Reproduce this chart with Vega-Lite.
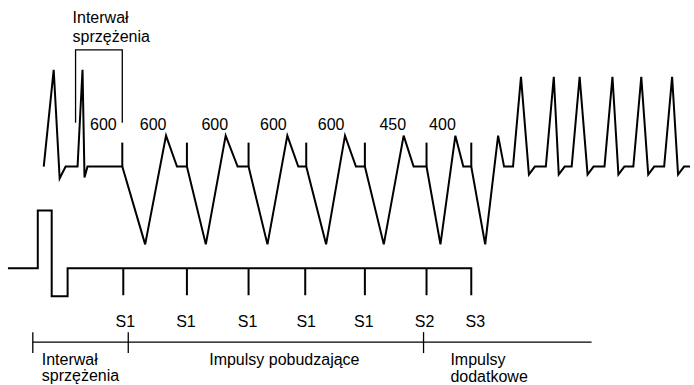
{
  "$schema": "https://vega.github.io/schema/vega-lite/v6.json",
  "width": 694,
  "height": 385,
  "autosize": {"type": "fit", "contains": "padding"},
  "padding": 0,
  "background": "white",
  "config": {"view": {"stroke": null}},
  "datasets": {
    "thick": [
      {"path": "ecg", "i": 0, "x": 44, "y": 167},
      {"path": "ecg", "i": 1, "x": 54, "y": 70},
      {"path": "ecg", "i": 2, "x": 60, "y": 179},
      {"path": "ecg", "i": 3, "x": 66, "y": 167},
      {"path": "ecg", "i": 4, "x": 78, "y": 167},
      {"path": "ecg", "i": 5, "x": 83, "y": 70},
      {"path": "ecg", "i": 6, "x": 85, "y": 178},
      {"path": "ecg", "i": 7, "x": 88, "y": 167},
      {"path": "ecg", "i": 8, "x": 123, "y": 167},
      {"path": "ecg", "i": 9, "x": 146, "y": 245},
      {"path": "ecg", "i": 10, "x": 167, "y": 136},
      {"path": "ecg", "i": 11, "x": 178, "y": 167},
      {"path": "ecg", "i": 12, "x": 188, "y": 167},
      {"path": "ecg", "i": 13, "x": 207, "y": 245},
      {"path": "ecg", "i": 14, "x": 227, "y": 136},
      {"path": "ecg", "i": 15, "x": 239, "y": 167},
      {"path": "ecg", "i": 16, "x": 250, "y": 167},
      {"path": "ecg", "i": 17, "x": 269, "y": 245},
      {"path": "ecg", "i": 18, "x": 289, "y": 136},
      {"path": "ecg", "i": 19, "x": 300, "y": 167},
      {"path": "ecg", "i": 20, "x": 308, "y": 167},
      {"path": "ecg", "i": 21, "x": 328, "y": 245},
      {"path": "ecg", "i": 22, "x": 347, "y": 136},
      {"path": "ecg", "i": 23, "x": 358, "y": 167},
      {"path": "ecg", "i": 24, "x": 367, "y": 167},
      {"path": "ecg", "i": 25, "x": 386, "y": 245},
      {"path": "ecg", "i": 26, "x": 406, "y": 136},
      {"path": "ecg", "i": 27, "x": 416, "y": 167},
      {"path": "ecg", "i": 28, "x": 429, "y": 167},
      {"path": "ecg", "i": 29, "x": 443, "y": 245},
      {"path": "ecg", "i": 30, "x": 458, "y": 136},
      {"path": "ecg", "i": 31, "x": 466, "y": 167},
      {"path": "ecg", "i": 32, "x": 474, "y": 167},
      {"path": "ecg", "i": 33, "x": 488, "y": 245},
      {"path": "ecg", "i": 34, "x": 501, "y": 136},
      {"path": "ecg", "i": 35, "x": 507, "y": 167},
      {"path": "ecg", "i": 36, "x": 516, "y": 167},
      {"path": "ecg", "i": 37, "x": 524, "y": 77},
      {"path": "ecg", "i": 38, "x": 532, "y": 175},
      {"path": "ecg", "i": 39, "x": 538, "y": 167},
      {"path": "ecg", "i": 40, "x": 549, "y": 167},
      {"path": "ecg", "i": 41, "x": 557, "y": 77},
      {"path": "ecg", "i": 42, "x": 562, "y": 175},
      {"path": "ecg", "i": 43, "x": 568, "y": 167},
      {"path": "ecg", "i": 44, "x": 575, "y": 167},
      {"path": "ecg", "i": 45, "x": 583, "y": 77},
      {"path": "ecg", "i": 46, "x": 591, "y": 175},
      {"path": "ecg", "i": 47, "x": 597, "y": 167},
      {"path": "ecg", "i": 48, "x": 608, "y": 167},
      {"path": "ecg", "i": 49, "x": 616, "y": 77},
      {"path": "ecg", "i": 50, "x": 622, "y": 175},
      {"path": "ecg", "i": 51, "x": 628, "y": 167},
      {"path": "ecg", "i": 52, "x": 637, "y": 167},
      {"path": "ecg", "i": 53, "x": 645, "y": 77},
      {"path": "ecg", "i": 54, "x": 652, "y": 175},
      {"path": "ecg", "i": 55, "x": 658, "y": 167},
      {"path": "ecg", "i": 56, "x": 668, "y": 167},
      {"path": "ecg", "i": 57, "x": 676, "y": 77},
      {"path": "ecg", "i": 58, "x": 682, "y": 175},
      {"path": "ecg", "i": 59, "x": 688, "y": 167},
      {"path": "ecg", "i": 60, "x": 694, "y": 167},
      {"path": "sp1", "i": 0, "x": 123, "y": 143},
      {"path": "sp1", "i": 1, "x": 123, "y": 167},
      {"path": "sp2", "i": 0, "x": 188, "y": 143},
      {"path": "sp2", "i": 1, "x": 188, "y": 167},
      {"path": "sp3", "i": 0, "x": 250, "y": 143},
      {"path": "sp3", "i": 1, "x": 250, "y": 167},
      {"path": "sp4", "i": 0, "x": 308, "y": 143},
      {"path": "sp4", "i": 1, "x": 308, "y": 167},
      {"path": "sp5", "i": 0, "x": 367, "y": 143},
      {"path": "sp5", "i": 1, "x": 367, "y": 167},
      {"path": "sp6", "i": 0, "x": 429, "y": 143},
      {"path": "sp6", "i": 1, "x": 429, "y": 167},
      {"path": "sp7", "i": 0, "x": 474, "y": 143},
      {"path": "sp7", "i": 1, "x": 474, "y": 167},
      {"path": "stim", "i": 0, "x": 8, "y": 269},
      {"path": "stim", "i": 1, "x": 38, "y": 269},
      {"path": "stim", "i": 2, "x": 38, "y": 211},
      {"path": "stim", "i": 3, "x": 52, "y": 211},
      {"path": "stim", "i": 4, "x": 52, "y": 297},
      {"path": "stim", "i": 5, "x": 68, "y": 297},
      {"path": "stim", "i": 6, "x": 68, "y": 269},
      {"path": "stim", "i": 7, "x": 474, "y": 269},
      {"path": "stim", "i": 8, "x": 474, "y": 296},
      {"path": "tk1", "i": 0, "x": 124, "y": 269},
      {"path": "tk1", "i": 1, "x": 124, "y": 296},
      {"path": "tk2", "i": 0, "x": 188, "y": 269},
      {"path": "tk2", "i": 1, "x": 188, "y": 296},
      {"path": "tk3", "i": 0, "x": 250, "y": 269},
      {"path": "tk3", "i": 1, "x": 250, "y": 296},
      {"path": "tk4", "i": 0, "x": 307, "y": 269},
      {"path": "tk4", "i": 1, "x": 307, "y": 296},
      {"path": "tk5", "i": 0, "x": 367, "y": 269},
      {"path": "tk5", "i": 1, "x": 367, "y": 296},
      {"path": "tk6", "i": 0, "x": 429, "y": 269},
      {"path": "tk6", "i": 1, "x": 429, "y": 296}
    ],
    "thin": [
      {"path": "br", "i": 0, "x": 76, "y": 123},
      {"path": "br", "i": 1, "x": 76, "y": 50},
      {"path": "br", "i": 2, "x": 123, "y": 50},
      {"path": "br", "i": 3, "x": 123, "y": 123},
      {"path": "tl", "i": 0, "x": 33, "y": 343},
      {"path": "tl", "i": 1, "x": 595, "y": 343},
      {"path": "tt1", "i": 0, "x": 33, "y": 333},
      {"path": "tt1", "i": 1, "x": 33, "y": 354},
      {"path": "tt2", "i": 0, "x": 129, "y": 333},
      {"path": "tt2", "i": 1, "x": 129, "y": 354},
      {"path": "tt3", "i": 0, "x": 426, "y": 333},
      {"path": "tt3", "i": 1, "x": 426, "y": 354}
    ],
    "textC": [
      {"x": 104, "y": 130, "t": "600"},
      {"x": 154, "y": 130, "t": "600"},
      {"x": 216, "y": 130, "t": "600"},
      {"x": 275, "y": 130, "t": "600"},
      {"x": 333, "y": 130, "t": "600"},
      {"x": 395, "y": 130, "t": "450"},
      {"x": 445, "y": 130, "t": "400"},
      {"x": 126, "y": 328, "t": "S1"},
      {"x": 187, "y": 328, "t": "S1"},
      {"x": 249, "y": 328, "t": "S1"},
      {"x": 308, "y": 328, "t": "S1"},
      {"x": 366, "y": 328, "t": "S1"},
      {"x": 427, "y": 328, "t": "S2"},
      {"x": 478, "y": 328, "t": "S3"},
      {"x": 286, "y": 366, "t": "Impulsy pobudzające"}
    ],
    "textL": [
      {"x": 73, "y": 23, "t": "Interwał"},
      {"x": 73, "y": 42, "t": "sprzężenia"},
      {"x": 42, "y": 366, "t": "Interwał"},
      {"x": 42, "y": 382, "t": "sprzężenia"},
      {"x": 453, "y": 366, "t": "Impulsy"},
      {"x": 453, "y": 383, "t": "dodatkowe"}
    ]
  },
  "encoding": {
    "x": {"field": "x", "type": "quantitative", "scale": {"domain": [0, 694], "nice": false, "zero": false}, "axis": null},
    "y": {"field": "y", "type": "quantitative", "scale": {"domain": [0, 385], "reverse": true, "nice": false, "zero": false}, "axis": null}
  },
  "layer": [
    {
      "data": {"name": "thick"},
      "mark": {"type": "line", "color": "black", "strokeWidth": 2, "strokeJoin": "miter", "strokeCap": "butt"},
      "encoding": {"detail": {"field": "path"}, "order": {"field": "i", "type": "quantitative"}}
    },
    {
      "data": {"name": "thin"},
      "mark": {"type": "line", "color": "black", "strokeWidth": 1.3, "strokeJoin": "miter", "strokeCap": "butt"},
      "encoding": {"detail": {"field": "path"}, "order": {"field": "i", "type": "quantitative"}}
    },
    {
      "data": {"name": "textC"},
      "mark": {"type": "text", "font": "Liberation Sans", "fontSize": 16, "align": "center", "baseline": "alphabetic", "color": "black"},
      "encoding": {"text": {"field": "t"}}
    },
    {
      "data": {"name": "textL"},
      "mark": {"type": "text", "font": "Liberation Sans", "fontSize": 16, "align": "left", "baseline": "alphabetic", "color": "black"},
      "encoding": {"text": {"field": "t"}}
    }
  ]
}
